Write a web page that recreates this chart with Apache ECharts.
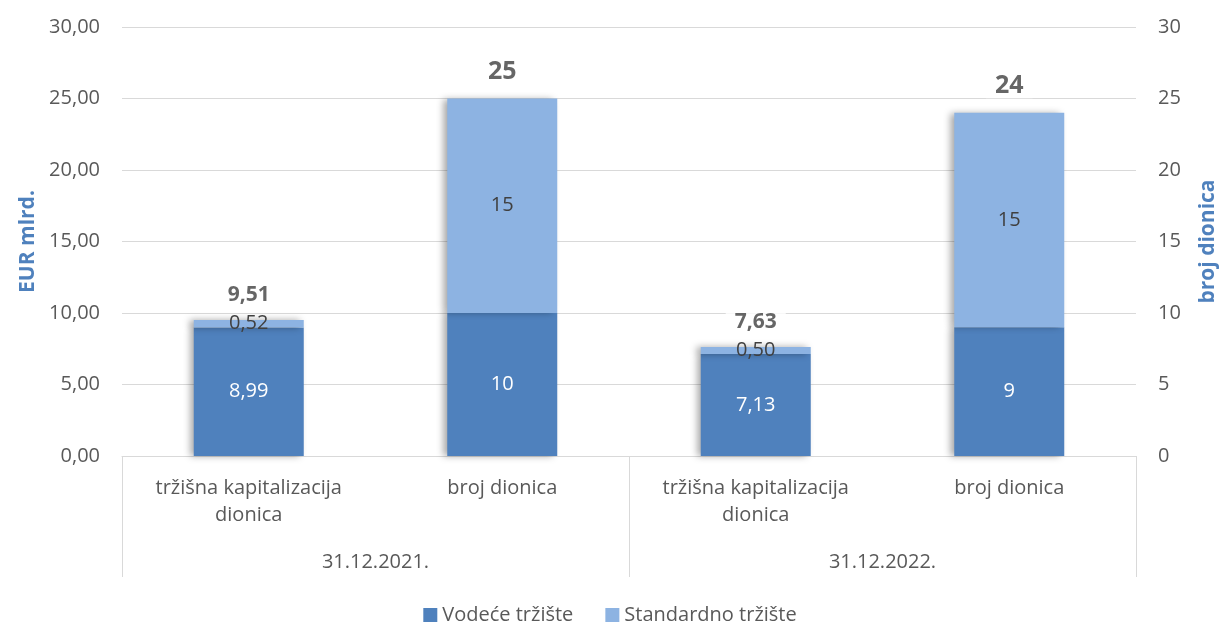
<!DOCTYPE html>
<html>
<head>
<meta charset="utf-8">
<script src="https://cdn.jsdelivr.net/npm/echarts@6/dist/echarts.min.js"></script>
<style>
  html, body { margin: 0; padding: 0; background: #fff; }
  #container { width: 1220px; height: 623px; }
</style>
</head>
<body>
<div id="container"></div>
<script>
// podaci
var categories = ['tržišna kapitalizacija\ndionica', 'broj dionica', 'tržišna kapitalizacija\ndionica', 'broj dionica'];
var groups = ['31.12.2021.', '31.12.2022.'];
var seriesNames = ['Vodeće tržište', 'Standardno tržište'];
var capVodece = [8.99, 7.13];      // EUR mlrd.
var capStandard = [0.52, 0.50];
var capTotal = [9.51, 7.63];
var brojVodece = [10, 9];          // broj dionica
var brojStandard = [15, 15];
var brojTotal = [25, 24];
var yTicks = [0, 30, 5];           // min, max, interval

// kapitalizacija na lijevu os (pozicije 0 i 2), broj dionica na desnu (1 i 3)
function capData(arr) { return [arr[0], '-', arr[1], '-']; }
function brojData(arr) { return ['-', arr[0], '-', arr[1]]; }
function eur(v) { return Number(v).toFixed(2).replace('.', ','); }

var dark = '#4f81bd', light = '#8db3e2', txt = '#595959';
var font = 'Open Sans';
var fs = 20;
var shadow = { shadowBlur: 7, shadowColor: 'rgba(0,0,0,0.35)', shadowOffsetX: -4, shadowOffsetY: 0 };

function barSeries(name, data, axis, stack, color, labelColor, fmt) {
    return {
        name: name,
        type: 'bar',
        yAxisIndex: axis,
        stack: stack,
        barWidth: 110,
        barGap: '-100%',
        data: data,
        itemStyle: Object.assign({ color: color }, shadow),
        label: {
            show: true,
            position: 'inside',
            color: labelColor,
            fontSize: fs,
            fontFamily: font,
            formatter: function (p) { return fmt(p.value); }
        },
        emphasis: { disabled: true }
    };
}

function totalSeries(data, axis, fmt, size, dist) {
    return {
        type: 'scatter',
        yAxisIndex: axis,
        data: data,
        symbolSize: 1,
        itemStyle: { color: 'rgba(0,0,0,0)' },
        label: {
            show: true,
            position: 'top',
            distance: dist,
            color: '#404040',
            fontSize: size,
            fontWeight: 'bold',
            fontFamily: font,
            backgroundColor: '#fff',
            padding: [0, 9],
            formatter: function (p) { return fmt(p.value); }
        },
        z: 5
    };
}

var dom = document.getElementById('container');
var myChart = echarts.init(dom);
var option = {
    animation: false,
    textStyle: { fontFamily: font },
    grid: { left: 122, right: 84, top: 27, bottom: 167, outerBoundsMode: 'none', containLabel: false },
    legend: {
        top: 600,
        left: 'center',
        data: seriesNames,
        icon: 'rect',
        itemWidth: 14,
        itemHeight: 14,
        itemGap: 32,
        itemStyle: { shadowBlur: 0, shadowOffsetX: 0, shadowOffsetY: 0 },
        textStyle: { color: txt, fontSize: fs, fontFamily: font }
    },
    xAxis: [
        {
            type: 'category',
            data: categories,
            position: 'bottom',
            axisLine: { show: true, lineStyle: { color: '#d9d9d9', width: 1 } },
            axisTick: { show: false },
            axisLabel: { color: txt, fontSize: fs, lineHeight: 27, margin: 19, interval: 0, fontFamily: font }
        },
        {
            type: 'category',
            data: groups,
            position: 'bottom',
            axisLine: { show: false },
            axisTick: { show: true, length: 121, lineStyle: { color: '#d9d9d9' } },
            axisLabel: { color: txt, fontSize: fs, lineHeight: 27, margin: 93, fontFamily: font }
        }
    ],
    yAxis: [
        {
            type: 'value',
            min: yTicks[0], max: yTicks[1], interval: yTicks[2],
            name: 'EUR mlrd.',
            nameLocation: 'middle',
            nameRotate: 90,
            nameGap: 80,
            nameTextStyle: { color: dark, fontSize: 21, fontWeight: 'bold', fontFamily: font },
            axisLine: { show: false },
            axisTick: { show: false },
            splitLine: { lineStyle: { color: '#d9d9d9' } },
            axisLabel: { color: txt, fontSize: fs, margin: 22, fontFamily: font, formatter: eur }
        },
        {
            type: 'value',
            position: 'right',
            min: yTicks[0], max: yTicks[1], interval: yTicks[2],
            name: 'broj dionica',
            nameLocation: 'middle',
            nameRotate: 90,
            nameGap: 62,
            nameTextStyle: { color: dark, fontSize: 21, fontWeight: 'bold', fontFamily: font },
            axisLine: { show: false },
            axisTick: { show: false },
            splitLine: { show: false },
            axisLabel: { color: txt, fontSize: fs, margin: 22, fontFamily: font }
        }
    ],
    series: [
        barSeries(seriesNames[0], capData(capVodece), 0, 'cap', dark, '#fff', eur),
        barSeries(seriesNames[1], capData(capStandard), 0, 'cap', light, '#404040', eur),
        barSeries(seriesNames[0], brojData(brojVodece), 1, 'broj', dark, '#fff', String),
        barSeries(seriesNames[1], brojData(brojStandard), 1, 'broj', light, '#404040', String),
        totalSeries(capData(capTotal), 0, eur, 21, 14),
        totalSeries(brojData(brojTotal), 1, String, 25, 14)
    ]
};
if (option && typeof option === 'object') {
    myChart.setOption(option, true);
}
</script>
</body>
</html>
